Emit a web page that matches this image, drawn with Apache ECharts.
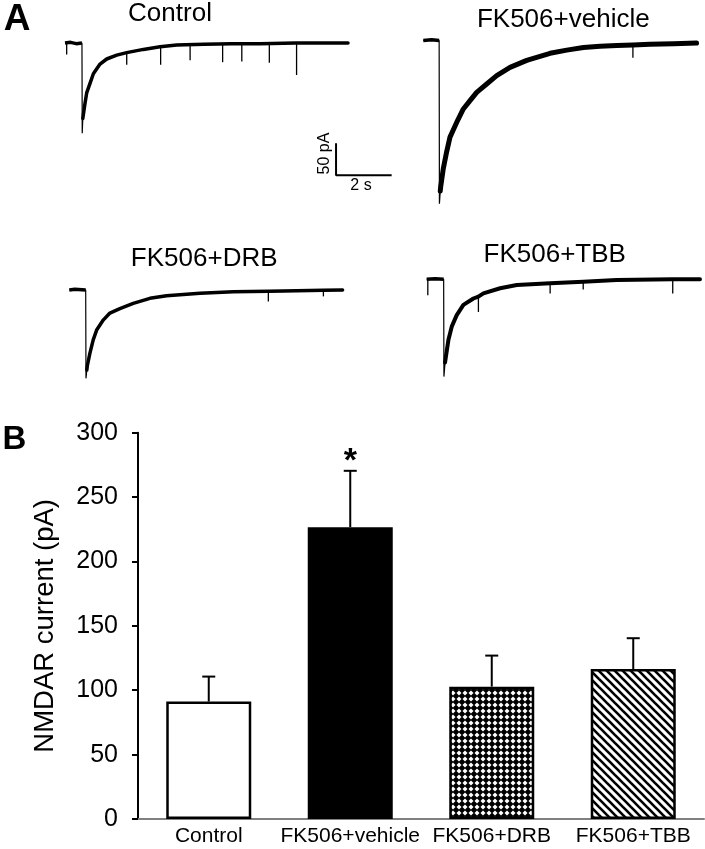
<!DOCTYPE html>
<html>
<head>
<meta charset="utf-8">
<script src="https://cdn.jsdelivr.net/npm/echarts@6/dist/echarts.min.js"></script>
<style>
html,body{margin:0;padding:0;background:#fff;}
#chart{width:705px;height:849px;}
</style>
</head>
<body>
<div id="chart"></div>
<script>
// ---------- Panel B data ----------
const barCategories = ['Control', 'FK506+vehicle', 'FK506+DRB', 'FK506+TBB'];
const barMeans = [91.2, 226.6, 102.8, 116.5];
const barErrors = [19.4, 43.8, 24.1, 23.9];
const sigMarks = ['', '*', '', ''];
const yTickMin = 0, yTickMax = 300, yTickStep = 50;

// ---------- Panel A traces: time (s), current (pA) relative to baseline ----------
const traceTitles = ['Control', 'FK506+vehicle', 'FK506+DRB', 'FK506+TBB'];

const controlBaseline = [[0,0],[0.2,1],[0.4,-1],[0.61,0]];
const controlPeak = [0.62,-141];
const controlDecay = [[0.64,-118],[0.66,-112],[0.72,-94],[0.78,-78],[0.9,-63],[1.02,-48],
  [1.26,-33],[1.5,-25],[1.86,-19],[2.22,-15],[2.82,-10],[3.42,-6],[4.02,-3],[5.0,-2],
  [6.0,-1],[7.0,-1],[8.3,0],[9.0,0],[10.18,0]];
const controlSpikes = [[0.06,0,-18],[2.22,-15,-34],[3.44,-6,-34],[4.5,-2,-27],
  [5.67,-1.5,-30],[6.36,-1,-29],[7.35,-1,-31],[8.33,0,-50]]; // [t, from, to]

const vehicleBaseline = [[0,0],[0.3,1],[0.57,0]];
const vehiclePeak = [0.58,-255];
const vehicleDecay = [[0.61,-235],[0.63,-227],[0.72,-200],[0.84,-174],[0.96,-151],[1.2,-128],
  [1.44,-107],[1.68,-94],[1.92,-81],[2.28,-68],[2.64,-55],[3.12,-42],[3.72,-31],[4.56,-20],
  [5.16,-15],[5.76,-11],[6.36,-9],[6.96,-8],[7.54,-7],[8.15,-6],[9.0,-5],[9.83,-4]];
const vehicleSpikes = [[7.54,-7,-27]];

const drbBaseline = [[0,0],[0.2,1],[0.59,0]];
const drbPeak = [0.6,-138];
const drbDecay = [[0.63,-125],[0.65,-118],[0.74,-99],[0.86,-78],[0.99,-62],[1.22,-47],
  [1.46,-36],[1.82,-29],[2.3,-21],[2.9,-13],[3.5,-9],[4.7,-5],[5.9,-2.7],[7.16,-2],
  [7.7,-1.5],[9.14,-0.5],[9.83,0]];
const drbSpikes = [[7.16,-2,-18],[9.14,-0.5,-10]];

const tbbBaseline = [[0,0],[0.3,1],[0.61,0]];
const tbbPeak = [0.62,-152];
const tbbDecay = [[0.66,-130],[0.69,-121],[0.78,-95],[0.9,-74],[1.08,-56],[1.32,-40],
  [1.68,-30],[1.86,-27],[2.04,-22],[2.64,-14],[3.24,-9],[4.44,-6],[5.63,-4],[6.83,-1],
  [8.85,0],[9.83,0]];
const tbbSpikes = [[0.04,0,-25],[1.86,-27,-51],[4.44,-6,-22],[5.63,-4,-16],[8.85,0,-22]];

const scaleBarCurrent = 50; // pA
const scaleBarTime = 2;     // s
const scaleBarLabels = ['50 pA', '2 s'];

// ---------- Layout ----------
const FONT = 'Liberation Sans, Arial, sans-serif';
const pxPerSec = 27.8, pxPerPA = 0.64;
const traceYMin = -270, traceYMax = 10;
const traceLayout = [
  {left: 65,    base: 43,    tmax: 12, width: 3.5},
  {left: 423.3, base: 40.5,  tmax: 10, width: 5},
  {left: 69.3,  base: 290,   tmax: 10, width: 3.5},
  {left: 426.7, base: 279.3, tmax: 10, width: 4}
];
const titlePos = [[170,14],[563.3,20],[204.2,259],[554.7,255]];
const scaleBarAt = {t: 9.75, i: -156.7};

function makeCrossPattern() {
  const c = document.createElement('canvas');
  c.width = 6; c.height = 6;
  const g = c.getContext('2d');
  g.fillStyle = '#000'; g.fillRect(0,0,6,6);
  g.fillStyle = '#fff';
  g.beginPath();
  g.moveTo(3,0.5); g.lineTo(5.5,3); g.lineTo(3,5.5); g.lineTo(0.5,3); g.closePath();
  g.fill();
  return c;
}
function makeStripePattern() {
  const s = 8;
  const c = document.createElement('canvas');
  c.width = s; c.height = s;
  const g = c.getContext('2d');
  g.fillStyle = '#fff'; g.fillRect(0,0,s,s);
  g.strokeStyle = '#000'; g.lineWidth = 2.6;
  [-s, 0, s].forEach(o => {
    g.beginPath(); g.moveTo(o-2,-2); g.lineTo(o+s+2,s+2); g.stroke();
  });
  return c;
}
const barFills = ['#ffffff', '#000000',
  {image: makeCrossPattern(), repeat: 'repeat'},
  {image: makeStripePattern(), repeat: 'repeat'}];

const traces = [
  {baseline: controlBaseline, peak: controlPeak, decay: controlDecay, spikes: controlSpikes},
  {baseline: vehicleBaseline, peak: vehiclePeak, decay: vehicleDecay, spikes: vehicleSpikes},
  {baseline: drbBaseline, peak: drbPeak, decay: drbDecay, spikes: drbSpikes},
  {baseline: tbbBaseline, peak: tbbPeak, decay: tbbDecay, spikes: tbbSpikes}
];

const grids = [], xAxes = [], yAxes = [], series = [];
// bar chart grid (index 0)
grids.push({left: 138, top: 432.7, width: 566, height: 386.3, containLabel: false});
xAxes.push({
  type: 'category', gridIndex: 0, data: barCategories,
  axisLine: {lineStyle: {color: '#808080', width: 2}},
  axisTick: {alignWithLabel: true, length: 4, lineStyle: {color: '#333', width: 1.5}},
  axisLabel: {color: '#000', fontSize: 21, fontFamily: FONT, margin: 7, interval: 0}
});
yAxes.push({
  type: 'value', gridIndex: 0, min: yTickMin, max: yTickMax, interval: yTickStep,
  name: 'NMDAR current (pA)', nameLocation: 'middle', nameGap: 79,
  nameTextStyle: {color: '#000', fontSize: 27.5, fontFamily: FONT},
  axisLine: {show: true, lineStyle: {color: '#000', width: 2}},
  axisTick: {show: true, length: 6, lineStyle: {color: '#000', width: 2}},
  axisLabel: {color: '#000', fontSize: 25, fontFamily: FONT, margin: 20},
  splitLine: {show: false}
});
series.push({
  type: 'bar', xAxisIndex: 0, yAxisIndex: 0, barWidth: 85,
  data: barMeans.map((v, i) => ({value: v, itemStyle: {color: barFills[i]}})),
  itemStyle: {borderColor: '#000', borderWidth: 2.5},
  emphasis: {disabled: true}, z: 3
});
series.push({
  type: 'custom', xAxisIndex: 0, yAxisIndex: 0, z: 2,
  data: barMeans.map((v, i) => [i, v, v + barErrors[i]]),
  renderItem: function (params, api) {
    const i = api.value(0);
    const p0 = api.coord([i, api.value(1)]);
    const p1 = api.coord([i, api.value(2)]);
    const cap = 6.5;
    const children = [
      {type: 'line', shape: {x1: p0[0], y1: p0[1], x2: p1[0], y2: p1[1]}, style: {stroke: '#000', lineWidth: 2}},
      {type: 'line', shape: {x1: p1[0]-cap, y1: p1[1], x2: p1[0]+cap, y2: p1[1]}, style: {stroke: '#000', lineWidth: 2}}
    ];
    const mark = sigMarks[params.dataIndex];
    if (mark) {
      children.push({type: 'text', x: p1[0], y: p1[1] + 8,
        style: {text: mark, fill: '#000', fontSize: 34, fontWeight: 'bold', fontFamily: FONT,
          align: 'center', verticalAlign: 'bottom'}});
    }
    return {type: 'group', children: children};
  }
});

// trace grids
traces.forEach((tr, k) => {
  const L = traceLayout[k];
  const gi = k + 1;
  grids.push({left: L.left, top: L.base - traceYMax * pxPerPA,
    width: L.tmax * pxPerSec, height: (traceYMax - traceYMin) * pxPerPA});
  xAxes.push({type: 'value', gridIndex: gi, min: 0, max: L.tmax, show: false});
  yAxes.push({type: 'value', gridIndex: gi, min: traceYMin, max: traceYMax, show: false});
  const common = {type: 'line', xAxisIndex: gi, yAxisIndex: gi, showSymbol: false,
    symbol: 'none', silent: true, animation: false, clip: false};
  // thin full trace incl. the fast peak
  series.push(Object.assign({}, common, {
    data: tr.baseline.concat([tr.peak], tr.decay),
    lineStyle: {color: '#000', width: 1.2}
  }));
  // thick noisy band: baseline and decay
  series.push(Object.assign({}, common, {
    data: tr.baseline, lineStyle: {color: '#000', width: 3.5, join: 'round'}
  }));
  series.push(Object.assign({}, common, {
    data: tr.decay, lineStyle: {color: '#000', width: L.width, join: 'round', cap: 'round'}
  }));
  // brief downward noise spikes
  series.push({
    type: 'custom', xAxisIndex: gi, yAxisIndex: gi, silent: true, clip: false,
    data: tr.spikes,
    renderItem: function (params, api) {
      const a = api.coord([api.value(0), api.value(1)]);
      const b = api.coord([api.value(0), api.value(2)]);
      return {type: 'line', shape: {x1: a[0], y1: a[1], x2: b[0], y2: b[1]},
        style: {stroke: '#000', lineWidth: 1.3}};
    }
  });
});
// scale bar on control grid
series.push({
  type: 'line', xAxisIndex: 1, yAxisIndex: 1, symbol: 'none', silent: true,
  data: [[scaleBarAt.t, scaleBarAt.i], [scaleBarAt.t, scaleBarAt.i - scaleBarCurrent],
         [scaleBarAt.t + scaleBarTime, scaleBarAt.i - scaleBarCurrent]],
  lineStyle: {color: '#000', width: 2}, clip: false
});

const graphic = [];
traceTitles.forEach((t, k) => {
  graphic.push({type: 'text', x: titlePos[k][0], y: titlePos[k][1],
    style: {text: t, fill: '#000', fontSize: 26, fontFamily: FONT, align: 'center', verticalAlign: 'middle'}});
});
graphic.push({type: 'text', x: 17, y: 20,
  style: {text: 'A', fill: '#000', fontSize: 37, fontWeight: 'bold', fontFamily: FONT, align: 'center', verticalAlign: 'middle'}});
graphic.push({type: 'text', x: 14.5, y: 439.5,
  style: {text: 'B', fill: '#000', fontSize: 33, fontWeight: 'bold', fontFamily: FONT, align: 'center', verticalAlign: 'middle'}});
graphic.push({type: 'text', x: 324.5, y: 153.5, rotation: Math.PI / 2,
  style: {text: scaleBarLabels[0], fill: '#000', fontSize: 16, fontFamily: FONT, align: 'center', verticalAlign: 'middle'}});
graphic.push({type: 'text', x: 361, y: 185.5,
  style: {text: scaleBarLabels[1], fill: '#000', fontSize: 16, fontFamily: FONT, align: 'center', verticalAlign: 'middle'}});

const chart = echarts.init(document.getElementById('chart'), null, {renderer: 'canvas'});
chart.setOption({
  animation: false,
  backgroundColor: '#fff',
  textStyle: {fontFamily: FONT},
  grid: grids, xAxis: xAxes, yAxis: yAxes, series: series, graphic: graphic
});
</script>
</body>
</html>
